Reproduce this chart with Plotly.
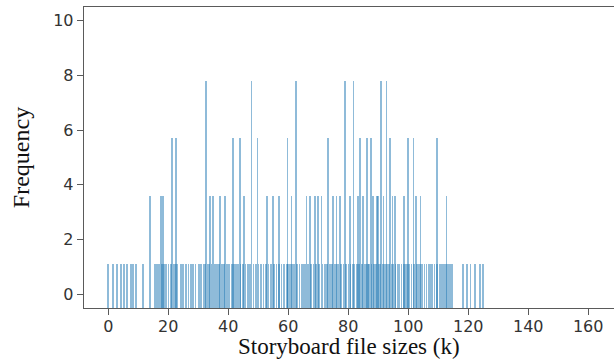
import plotly.graph_objects as go

# File sizes (k) of the histogram bins, grouped by the frequency they reach
sizes_freq_1 = [
    0.0, 1.6, 2.9, 4.2, 5.2, 6.2, 7.6, 8.2, 9.2, 11.6,
    15.6, 16.3, 16.9, 17.8, 18.6, 19.3, 20.1, 21.0, 21.8, 22.4, 23.0, 24.2, 25.0,
    25.9, 26.7, 27.6, 28.3, 29.1, 30.2, 31.0, 31.7, 32.3, 33.1, 33.6, 34.4, 35.5,
    36.3, 37.0, 37.9, 38.6, 39.5, 40.3, 41.2, 41.9, 42.6, 43.2, 44.1, 45.0, 45.8,
    46.5, 47.3, 48.4, 49.2, 50.1, 50.9, 51.7, 52.5, 53.4, 54.3, 55.2, 56.1, 56.9,
    57.8, 58.6, 59.5, 60.0, 60.6, 61.3, 62.0, 62.9, 63.7, 64.4, 65.0, 65.5, 66.6,
    67.6, 68.4, 69.3, 70.3, 71.4, 72.2, 73.0, 73.9, 74.6, 75.5, 76.3, 76.8, 77.6,
    78.4, 79.2, 80.1, 80.8, 81.4, 82.0, 82.9, 83.6, 84.5, 85.4, 85.9, 86.5, 87.0,
    87.7, 88.6, 89.3, 90.2, 90.7, 91.4, 92.0, 92.6, 93.2, 93.8, 94.5, 95.1, 95.8,
    96.4, 97.0, 97.8, 98.4, 99.0, 99.6, 100.3, 101.1, 102.0, 102.9, 103.6, 104.2,
    104.8, 105.4, 106.1, 106.7, 107.3, 108.0, 108.8, 109.6, 110.4, 110.9, 111.5,
    112.1, 112.6, 113.3, 114.0, 114.5,
    118.3, 119.5, 120.8, 122.2, 123.9, 125.0,
]
sizes_freq_3 = [
    13.9, 17.6, 18.3, 33.9, 34.8, 37.2, 38.9, 45.2, 53.0, 55.0, 57.0, 61.1, 66.1,
    67.2, 68.9, 70.0, 71.1, 75.0, 76.1, 77.2, 80.6, 83.3, 85.0, 88.2, 89.5, 90.0,
    91.8, 94.8, 95.5, 98.6, 102.6, 104.1, 112.8,
]
sizes_freq_5 = [
    21.2, 22.6, 41.6, 43.9, 49.8, 59.7, 73.3, 83.9, 86.3, 87.5, 93.9, 99.9, 101.7,
    109.5,
]
sizes_freq_7 = [32.6, 47.8, 62.5, 78.9, 81.8, 90.9, 92.8]

# Frequency read at the top of each group of bars
freq_levels = [1.1, 3.6, 5.7, 7.8]

groups = [sizes_freq_1, sizes_freq_3, sizes_freq_5, sizes_freq_7]
x_vals, freq_vals = [], []
for sizes, level in zip(groups, freq_levels):
    x_vals += sizes
    freq_vals += [level] * len(sizes)

y_floor = -0.5
x_ticks = [0, 20, 40, 60, 80, 100, 120, 140, 160]
y_ticks = [0, 2, 4, 6, 8, 10]

fig = go.Figure(
    go.Bar(
        x=x_vals,
        y=[f - y_floor for f in freq_vals],
        base=y_floor,
        width=0.55,
        marker=dict(color="rgba(31,119,180,0.5)", line=dict(width=0)),
        hoverinfo="x",
    )
)

axis_common = dict(
    showgrid=False,
    zeroline=False,
    showline=True,
    linecolor="#5a5a5a",
    linewidth=1.3,
    ticks="outside",
    ticklen=6,
    tickwidth=1.2,
    tickcolor="#5a5a5a",
    tickfont=dict(family="DejaVu Sans", size=16, color="#333333"),
)

title_font = dict(family="Liberation Serif", color="#111111")

fig.update_layout(
    width=614,
    height=360,
    margin=dict(l=84, r=0, t=7, b=52),
    paper_bgcolor="white",
    plot_bgcolor="white",
    showlegend=False,
    bargap=0,
    xaxis=dict(
        range=[-8.1, 168.6],
        tickvals=x_ticks,
        mirror=True,
        ticklabelstandoff=-3,
        **axis_common,
    ),
    yaxis=dict(
        range=[-0.5, 10.5],
        tickvals=y_ticks,
        title=dict(
            text="Frequency",
            font=dict(size=24, **title_font),
            standoff=16,
        ),
        **axis_common,
    ),
    annotations=[
        dict(
            text="Storyboard file sizes (k)",
            xref="paper",
            yref="paper",
            x=0.5,
            y=-0.172,
            xanchor="center",
            yanchor="bottom",
            borderpad=0,
            showarrow=False,
            font=dict(size=23, **title_font),
        )
    ],
)

fig.write_html("out.html", config={"staticPlot": True})
